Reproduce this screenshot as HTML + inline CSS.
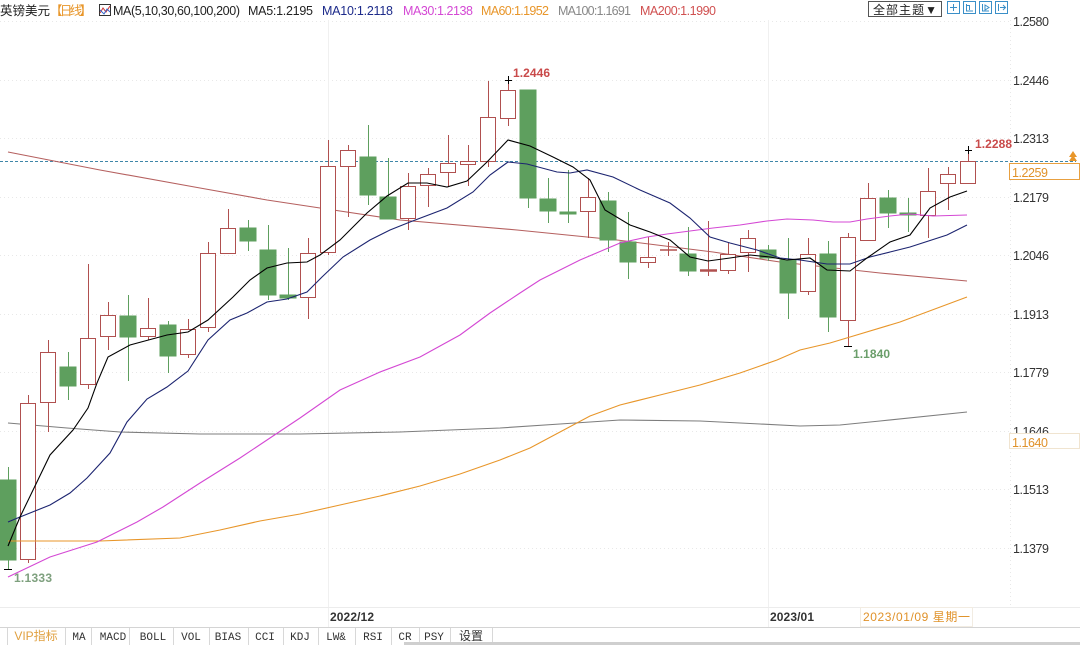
<!DOCTYPE html>
<html><head><meta charset="utf-8"><style>
html,body{margin:0;padding:0;background:#fff;}
svg{display:block;font-family:"Liberation Sans","Noto Sans CJK SC",sans-serif;}
</style></head><body>
<svg width="1080" height="645" viewBox="0 0 1080 645" xmlns="http://www.w3.org/2000/svg">
<rect width="1080" height="645" fill="#fff"/>
<!-- grid -->
<g stroke="#e8e8e8" stroke-width="1" stroke-dasharray="1,3">
<line x1="0" y1="21.5" x2="1010" y2="21.5"/><line x1="0" y1="80.5" x2="1010" y2="80.5"/><line x1="0" y1="138.5" x2="1010" y2="138.5"/><line x1="0" y1="197.5" x2="1010" y2="197.5"/><line x1="0" y1="255.5" x2="1010" y2="255.5"/><line x1="0" y1="314.5" x2="1010" y2="314.5"/><line x1="0" y1="372.5" x2="1010" y2="372.5"/><line x1="0" y1="431.5" x2="1010" y2="431.5"/><line x1="0" y1="489.5" x2="1010" y2="489.5"/><line x1="0" y1="548.5" x2="1010" y2="548.5"/>
<line x1="1010.5" y1="20" x2="1010.5" y2="607"/>
</g>
<g stroke="#f0f0f0" stroke-width="1"><line x1="328.5" y1="20" x2="328.5" y2="627"/><line x1="768.5" y1="20" x2="768.5" y2="627"/></g>
<!-- dashed current price -->
<line x1="0" y1="161.5" x2="1076" y2="161.5" stroke="#3f86a8" stroke-width="1" stroke-dasharray="3,2"/>
<!-- MA200 / MA100 behind -->
<polyline fill="none" stroke="#b5605f" stroke-width="1.1" points="8,152 100,170 200,188 267,200 320,208 400,220 517,230 617,240 713,252 780,262 880,273 967,281"/>
<polyline fill="none" stroke="#7d7d7d" stroke-width="1.1" points="8,423 67,428 120,432 200,434 300,434 400,432 500,428 560,424 620,420 700,421 760,424 800,426 840,425 880,421 967,412"/>
<!-- candles -->
<g stroke-width="1">
<g stroke="#5e9f5e" fill="#5e9f5e">
<line x1="8.5" y1="467" x2="8.5" y2="569"/><rect x="0" y="480" width="16" height="80"/>
<line x1="68.5" y1="352" x2="68.5" y2="400"/><rect x="60" y="367" width="16" height="19"/>
<line x1="128.5" y1="295" x2="128.5" y2="381"/><rect x="120" y="316" width="16" height="21"/>
<line x1="168.5" y1="321" x2="168.5" y2="373"/><rect x="160" y="325" width="16" height="31"/>
<line x1="248.5" y1="220" x2="248.5" y2="251"/><rect x="240" y="228" width="16" height="13"/>
<line x1="268.5" y1="225" x2="268.5" y2="300"/><rect x="260" y="250" width="16" height="45"/>
<line x1="288.5" y1="248" x2="288.5" y2="300"/><rect x="280" y="295" width="16" height="3"/>
<line x1="368.5" y1="125" x2="368.5" y2="205"/><rect x="360" y="157" width="16" height="38"/>
<line x1="388.5" y1="158" x2="388.5" y2="219"/><rect x="380" y="197" width="16" height="22"/>
<line x1="528.5" y1="90" x2="528.5" y2="208"/><rect x="520" y="90" width="16" height="108"/>
<line x1="548.5" y1="178" x2="548.5" y2="223"/><rect x="540" y="199" width="16" height="12"/>
<line x1="568.5" y1="170" x2="568.5" y2="223"/><rect x="560" y="212" width="16" height="2"/>
<line x1="608.5" y1="192" x2="608.5" y2="252"/><rect x="600" y="201" width="16" height="39"/>
<line x1="628.5" y1="212" x2="628.5" y2="279"/><rect x="620" y="242" width="16" height="20"/>
<line x1="688.5" y1="227" x2="688.5" y2="276"/><rect x="680" y="254" width="16" height="17"/>
<line x1="768.5" y1="245" x2="768.5" y2="261"/><rect x="760" y="250" width="16" height="8"/>
<line x1="788.5" y1="238" x2="788.5" y2="319"/><rect x="780" y="260" width="16" height="33"/>
<line x1="828.5" y1="241" x2="828.5" y2="332"/><rect x="820" y="254" width="16" height="63"/>
<line x1="888.5" y1="190" x2="888.5" y2="228"/><rect x="880" y="198" width="16" height="15"/>
<line x1="908.5" y1="198" x2="908.5" y2="232"/><rect x="900" y="213" width="16" height="2"/>
</g>
<g stroke="#b0504f" fill="#fff">
<line x1="28.5" y1="395" x2="28.5" y2="563"/><rect x="20.5" y="403.5" width="15" height="156"/>
<line x1="48.5" y1="340" x2="48.5" y2="432"/><rect x="40.5" y="352.5" width="15" height="50"/>
<line x1="88.5" y1="264" x2="88.5" y2="389"/><rect x="80.5" y="338.5" width="15" height="46"/>
<line x1="108.5" y1="302" x2="108.5" y2="350"/><rect x="100.5" y="315.5" width="15" height="21"/>
<line x1="148.5" y1="298" x2="148.5" y2="340"/><rect x="140.5" y="328.5" width="15" height="8"/>
<line x1="188.5" y1="319" x2="188.5" y2="358"/><rect x="180.5" y="329.5" width="15" height="25"/>
<line x1="208.5" y1="242" x2="208.5" y2="332"/><rect x="200.5" y="253.5" width="15" height="74"/>
<line x1="228.5" y1="209" x2="228.5" y2="254"/><rect x="220.5" y="228.5" width="15" height="25"/>
<line x1="308.5" y1="238" x2="308.5" y2="319"/><rect x="300.5" y="253.5" width="15" height="44"/>
<line x1="328.5" y1="140" x2="328.5" y2="255"/><rect x="320.5" y="166.5" width="15" height="86"/>
<line x1="348.5" y1="145" x2="348.5" y2="217"/><rect x="340.5" y="150.5" width="15" height="16"/>
<line x1="408.5" y1="173" x2="408.5" y2="230"/><rect x="400.5" y="186.5" width="15" height="32"/>
<line x1="428.5" y1="168" x2="428.5" y2="207"/><rect x="420.5" y="174.5" width="15" height="11"/>
<line x1="448.5" y1="135" x2="448.5" y2="187"/><rect x="440.5" y="163.5" width="15" height="9"/>
<line x1="468.5" y1="145" x2="468.5" y2="186"/><rect x="460.5" y="161.5" width="15" height="3"/>
<line x1="488.5" y1="81" x2="488.5" y2="167"/><rect x="480.5" y="117.5" width="15" height="44"/>
<line x1="508.5" y1="80" x2="508.5" y2="126"/><rect x="500.5" y="90.5" width="15" height="28"/>
<line x1="588.5" y1="178" x2="588.5" y2="238"/><rect x="580.5" y="197.5" width="15" height="14"/>
<line x1="648.5" y1="237" x2="648.5" y2="268"/><rect x="640.5" y="257.5" width="15" height="5"/>
<line x1="668.5" y1="242" x2="668.5" y2="256"/><line x1="660" y1="250" x2="677" y2="250" stroke-width="1.5"/>
<line x1="708.5" y1="221" x2="708.5" y2="276"/><line x1="700" y1="270.5" x2="717" y2="270.5" stroke-width="2.5"/>
<line x1="728.5" y1="243" x2="728.5" y2="274"/><rect x="720.5" y="254.5" width="15" height="16"/>
<line x1="748.5" y1="230" x2="748.5" y2="272"/><rect x="740.5" y="238.5" width="15" height="14"/>
<line x1="808.5" y1="238" x2="808.5" y2="295"/><rect x="800.5" y="254.5" width="15" height="37"/>
<line x1="848.5" y1="233" x2="848.5" y2="346"/><rect x="840.5" y="237.5" width="15" height="83"/>
<line x1="868.5" y1="183" x2="868.5" y2="241"/><rect x="860.5" y="198.5" width="15" height="42"/>
<line x1="928.5" y1="168" x2="928.5" y2="238"/><rect x="920.5" y="191.5" width="15" height="24"/>
<line x1="948.5" y1="167" x2="948.5" y2="210"/><rect x="940.5" y="174.5" width="15" height="9"/>
<line x1="968.5" y1="150" x2="968.5" y2="184"/><rect x="960.5" y="161.5" width="15" height="22"/>
</g>
</g>
<!-- MA lines -->
<polyline fill="none" stroke="#e8962a" stroke-width="1.1" points="8,541 100,541 180,538 220,530 260,521 300,514 340,505 380,496 420,486 460,474 500,460 530,448 560,432 590,416 620,405 660,395 700,385 740,373 777,360 800,350 830,343 850,337 900,322 967,297"/>
<polyline fill="none" stroke="#d448d4" stroke-width="1.1" points="8,577 50,557 97,542 137,522 163,507 200,483 240,458 270,438 300,418 340,390 380,372 420,357 460,335 490,313 520,293 540,280 580,260 620,243 647,237 667,234 690,231 713,228 740,225 767,221 787,219 813,220 833,222 850,222 867,219 890,216 910,214 933,216 967,215"/>
<polyline fill="none" stroke="#1c2470" stroke-width="1.1" points="8,522 20,517 50,505 70,493 87,478 110,453 127,422 147,399 167,387 188,371 208,340 230,320 247,313 267,302 287,299 307,292 322,277 343,257 370,240 390,230 410,222 447,208 473,192 490,175 508,162 527,164 557,172 570,173 587,170 613,177 640,190 670,203 690,218 710,237 730,243 757,250 780,258 800,260 827,264 850,264 870,257 890,252 910,247 947,235 967,225"/>
<polyline fill="none" stroke="#000" stroke-width="1.1" points="8,546 20,517 50,455 73,430 88,408 97,383 108,357 130,345 167,335 188,332 208,320 233,297 250,280 267,268 287,263 307,262 320,255 340,240 367,213 387,196 408,183 427,183 447,187 467,181 487,162 508,140 530,146 553,157 573,167 590,180 605,210 630,225 650,232 670,240 690,257 708,261 730,258 750,255 770,257 787,260 810,258 827,270 850,271 867,258 890,242 910,235 930,208 950,197 967,191"/>
<!-- extreme markers -->
<g stroke="#000" stroke-width="1">
<line x1="505" y1="80.5" x2="512" y2="80.5"/><line x1="508.5" y1="76" x2="508.5" y2="84"/>
<line x1="965" y1="150.5" x2="972" y2="150.5"/><line x1="968.5" y1="146" x2="968.5" y2="154"/>
<line x1="4" y1="569.5" x2="12" y2="569.5"/>
<line x1="844" y1="346.5" x2="852" y2="346.5"/>
</g>
<g font-size="12" font-weight="bold">
<text x="513" y="77" fill="#c94a4a" textLength="37">1.2446</text>
<text x="975" y="148" fill="#c94a4a" textLength="37">1.2288</text>
<text x="853" y="358" fill="#6a9e6a" textLength="37">1.1840</text>
<text x="14" y="582" fill="#7ea07e" textLength="38">1.1333</text>
</g>
<!-- right axis -->
<g font-size="12.5" fill="#333">
<text x="1013" y="26" textLength="36">1.2580</text>
<text x="1013" y="85" textLength="36">1.2446</text>
<text x="1013" y="143" textLength="36">1.2313</text>
<text x="1013" y="202" textLength="36">1.2179</text>
<text x="1013" y="260" textLength="36">1.2046</text>
<text x="1013" y="319" textLength="36">1.1913</text>
<text x="1013" y="377" textLength="36">1.1779</text>
<text x="1013" y="436" textLength="36">1.1646</text>
<text x="1013" y="494" textLength="36">1.1513</text>
<text x="1013" y="553" textLength="36">1.1379</text>
</g>
<rect x="1009.5" y="163.5" width="70" height="16" fill="#fff" stroke="#e8a040" stroke-width="1"/>
<text x="1012" y="177" font-size="12.5" fill="#e0922a" textLength="36">1.2259</text>
<path d="M1069,161 L1073,155 L1077,161 Z M1069,157 L1073,151 L1077,157 Z" fill="#e8962a"/>
<rect x="1009.5" y="433.5" width="70" height="15" fill="#fff" stroke="#f0e4d0" stroke-width="1"/>
<text x="1012" y="447" font-size="12.5" fill="#e0922a" textLength="36">1.1640</text>
<!-- bottom axis -->
<line x1="0" y1="607.5" x2="1080" y2="607.5" stroke="#ececec"/>
<line x1="0" y1="627.5" x2="1080" y2="627.5" stroke="#d4d4d4"/>
<text x="330" y="621" font-size="12" font-weight="bold" fill="#333" textLength="44">2022/12</text>
<text x="770" y="621" font-size="12" font-weight="bold" fill="#333" textLength="44">2023/01</text>
<rect x="860.5" y="607.5" width="112" height="19" fill="#fff" stroke="#f2ece2"/>
<text x="863" y="621" font-size="12" fill="#e0922a" textLength="107">2023/01/09 星期一</text>
<!-- tabs -->
<g stroke="#d8d8d8" stroke-width="1">
<line x1="7.5" y1="628" x2="7.5" y2="645"/><line x1="65.5" y1="628" x2="65.5" y2="645"/><line x1="91.5" y1="628" x2="91.5" y2="645"/><line x1="129.5" y1="628" x2="129.5" y2="645"/><line x1="173.5" y1="628" x2="173.5" y2="645"/><line x1="209.5" y1="628" x2="209.5" y2="645"/><line x1="248.5" y1="628" x2="248.5" y2="645"/><line x1="283.5" y1="628" x2="283.5" y2="645"/><line x1="318.5" y1="628" x2="318.5" y2="645"/><line x1="355.5" y1="628" x2="355.5" y2="645"/><line x1="391.5" y1="628" x2="391.5" y2="645"/><line x1="419.5" y1="628" x2="419.5" y2="645"/><line x1="450.5" y1="628" x2="450.5" y2="645"/><line x1="492.5" y1="628" x2="492.5" y2="645"/>
</g>
<rect x="404" y="642" width="676" height="3" fill="#cfcfcf"/>
<g font-family="Liberation Mono, Noto Sans CJK SC, monospace" font-size="11" fill="#333" text-anchor="middle">
<text x="36" y="640" fill="#e0a040" font-family="Liberation Sans, Noto Sans CJK SC, sans-serif" font-size="12">VIP指标</text>
<text x="79" y="640">MA</text>
<text x="113" y="640">MACD</text>
<text x="153" y="640">BOLL</text>
<text x="191" y="640">VOL</text>
<text x="228" y="640">BIAS</text>
<text x="265" y="640">CCI</text>
<text x="300" y="640">KDJ</text>
<text x="336" y="640">LW&amp;</text>
<text x="373" y="640">RSI</text>
<text x="405" y="640">CR</text>
<text x="434" y="640">PSY</text>
<text x="471" y="640" font-family="Liberation Sans, Noto Sans CJK SC, sans-serif" font-size="12">设置</text>
</g>
<!-- top legend -->
<g font-size="12.5">
<text x="0" y="15" fill="#222" textLength="50">英镑美元</text>
<text x="50" y="15" fill="#e8962a" textLength="42">【日线】</text>
<text x="113" y="15" fill="#222" textLength="127">MA(5,10,30,60,100,200)</text>
<text x="248" y="15" fill="#222" textLength="65">MA5:1.2195</text>
<text x="322" y="15" fill="#1c2a8a" textLength="71">MA10:1.2118</text>
<text x="403" y="15" fill="#d448d4" textLength="70">MA30:1.2138</text>
<text x="481" y="15" fill="#e8962a" textLength="68">MA60:1.1952</text>
<text x="558" y="15" fill="#888" textLength="73">MA100:1.1691</text>
<text x="640" y="15" fill="#d05050" textLength="76">MA200:1.1990</text>
</g>
<rect x="99.5" y="4.5" width="11" height="11" fill="#fff" stroke="#333"/>
<polyline points="100,13 103,8 106,12 110,6" fill="none" stroke="#c33" stroke-width="1"/>
<polyline points="100,10 104,14 107,9 110,12" fill="none" stroke="#36c" stroke-width="1"/>
<!-- top right controls -->
<rect x="868.5" y="1.5" width="73" height="15" fill="#fff" stroke="#555"/>
<text x="873" y="14" font-size="12" fill="#222" textLength="64">全部主题▼</text>
<g fill="#fff" stroke="#3a8fc8" stroke-width="1">
<rect x="947.5" y="1.5" width="12" height="12"/><rect x="963.5" y="1.5" width="12" height="12"/><rect x="979.5" y="1.5" width="12" height="12"/><rect x="995.5" y="1.5" width="12" height="12"/>
</g>
<g stroke="#3a8fc8" stroke-width="1" fill="none">
<path d="M953.5,4 V11 M950,7.5 H957"/>
<path d="M966.5,4 V11 H973 M969.5,5 V10 M966,5.5 H969"/>
<path d="M982.5,4 V11 H989 M985,5 L989,7.5 L985,10 Z"/>
<path d="M998.5,4 V11 M1000,7.5 H1005 M1003,5 L1005.5,7.5 L1003,10"/>
</g>
</svg>
</body></html>
